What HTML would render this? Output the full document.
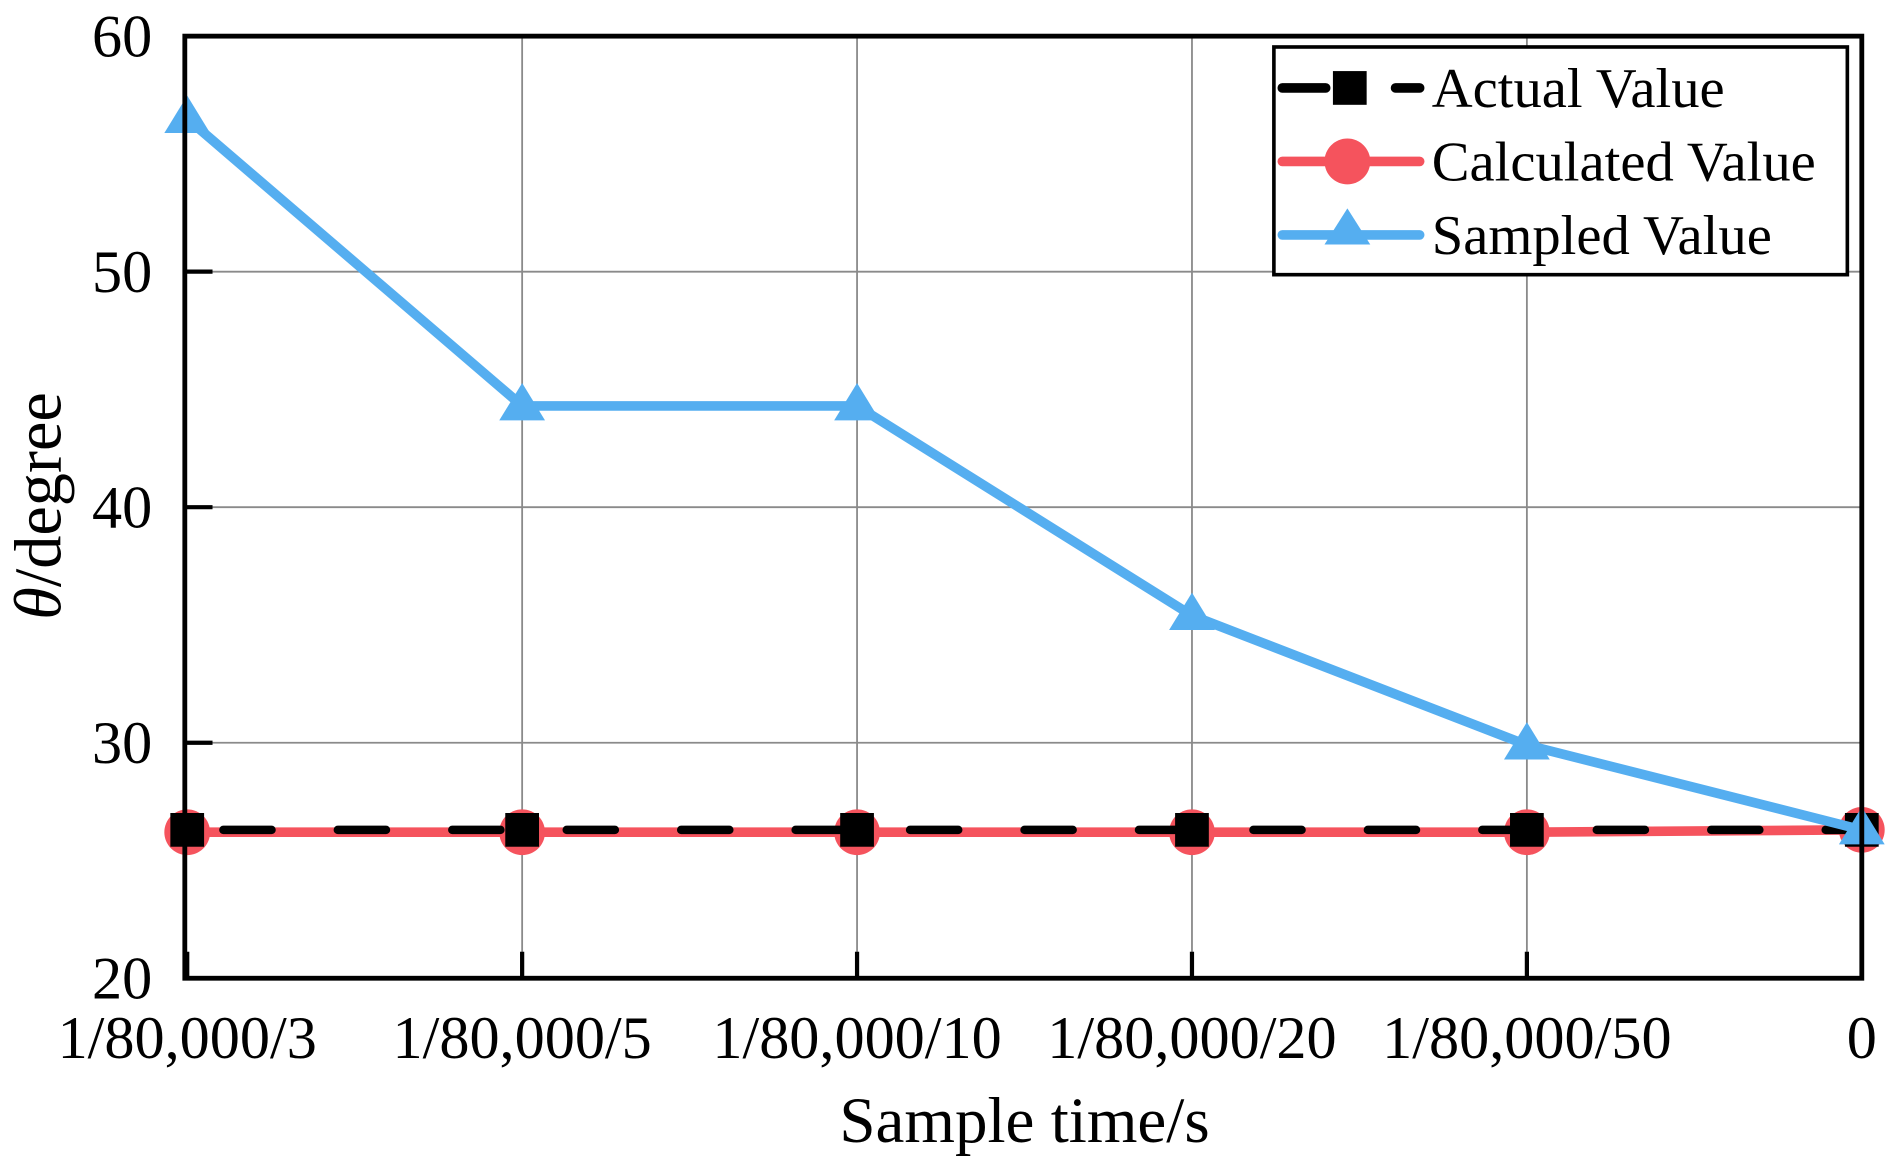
<!DOCTYPE html>
<html><head><meta charset="utf-8"><style>
html,body{margin:0;padding:0;background:#fff;}
svg{display:block;}
text{font-family:"Liberation Serif",serif;fill:#000;}
</style></head><body>
<svg id="chart" width="1890" height="1171" viewBox="0 0 1568 972" xmlns="http://www.w3.org/2000/svg">
<g id="grid"></g>
<g id="series"></g>
<g id="axes"></g>
<text x="850" y="948" font-size="54" text-anchor="middle">Sample time/s</text>
<text transform="translate(50,420) rotate(-90)" font-size="55" text-anchor="middle"><tspan font-style="italic">θ</tspan>/degree</text>
<g>
<rect x="1057" y="39" width="476" height="189" fill="#fff" stroke="#000" stroke-width="3"/>
<g>
<line x1="1064" y1="73" x2="1100" y2="73" stroke="#000" stroke-width="8" stroke-linecap="round"/>
<line x1="1158" y1="73" x2="1178" y2="73" stroke="#000" stroke-width="8" stroke-linecap="round"/>
<rect x="1106" y="59" width="28" height="28" fill="#000"/>
<text x="1188" y="89" font-size="47">Actual Value</text></g>
<g>
<line x1="1064" y1="134" x2="1178" y2="134" stroke="#f5535d" stroke-width="8" stroke-linecap="round"/>
<circle cx="1118" cy="134" r="19" fill="#f5535d"/>
<text x="1188" y="150" font-size="47">Calculated Value</text></g>
<g>
<line x1="1064" y1="195" x2="1178" y2="195" stroke="#55aef0" stroke-width="8" stroke-linecap="round"/>
<polygon points="1118,173 1137,203 1099,203" fill="#55aef0"/>
<text x="1188" y="211" font-size="47">Sampled Value</text></g>
</g>
</svg>
<script>
const categories = ["1/80,000/3","1/80,000/5","1/80,000/10","1/80,000/20","1/80,000/50","0"];
const actualValues = [26.3,26.3,26.3,26.3,26.3,26.3];
const calculatedValues = [26.2,26.2,26.2,26.2,26.2,26.3];
const sampledValues = [56.5,44.3,44.3,35.4,29.9,26.3];
const yTicks = [20,30,40,50,60];

const NS="http://www.w3.org/2000/svg";
const L=155,R=1545,T=30,B=812,yMin=20,yMax=60;
const xs=i=>L+i*(R-L)/(categories.length-1);
const ys=v=>B-(v-yMin)/(yMax-yMin)*(B-T);
function mk(tag,attrs,parent){const e=document.createElementNS(NS,tag);for(const k in attrs)e.setAttribute(k,attrs[k]);parent.appendChild(e);return e;}
const grid=document.getElementById('grid'),axes=document.getElementById('axes'),series=document.getElementById('series');
yTicks.forEach(v=>{
  if(v>yMin&&v<yMax){const g=mk('line',{x1:L,x2:R,y1:ys(v),y2:ys(v),stroke:'#8a8a8a','stroke-width':1.5},grid);
  
  }
  const t=mk('line',{x1:153,x2:176,y1:ys(v),y2:ys(v),stroke:'#000','stroke-width':3.5},axes);
  
  
  const tx=mk('text',{x:126,y:ys(v)+17,'font-size':50,'text-anchor':'end'},axes);
  tx.textContent=v;
  
  
});
categories.forEach((c,i)=>{
  if(i>0&&i<categories.length-1){const g=mk('line',{x1:xs(i),x2:xs(i),y1:T,y2:B,stroke:'#8a8a8a','stroke-width':1.5},grid);
  
  }
  const t=mk('line',{x1:xs(i),x2:xs(i),y1:B,y2:B-22,stroke:'#000','stroke-width':3.5},axes);
  
  
  const tx=mk('text',{x:i===categories.length-1?1545:xs(i),y:878,'font-size':50,'text-anchor':'middle'},axes);
  tx.textContent=c;
  
  
});
const frame=mk('rect',{x:153,y:T,width:R-153,height:B-T,fill:'none',stroke:'#000','stroke-width':4},axes);


function pts(vals){return vals.map((v,i)=>xs(i)+','+ys(v)).join(' ');}
const cl=mk('polyline',{points:pts(calculatedValues),fill:'none',stroke:'#f5535d','stroke-width':8},series);


calculatedValues.forEach((v,i)=>{const c=mk('circle',{cx:xs(i),cy:ys(v),r:19,fill:'#f5535d'},series);

});
const al=mk('polyline',{points:pts(actualValues),fill:'none',stroke:'#000','stroke-width':7,'stroke-dasharray':'40 55','stroke-linecap':'round','stroke-dashoffset':-30},series);


actualValues.forEach((v,i)=>{const s=mk('rect',{x:xs(i)-14,y:ys(v)-14,width:28,height:28,fill:'#000'},series);

});
const sl=mk('polyline',{points:pts(sampledValues),fill:'none',stroke:'#55aef0','stroke-width':8,'stroke-linejoin':'round'},series);


sampledValues.forEach((v,i)=>{const x=xs(i),y=ys(v);const p=mk('polygon',{points:`${x},${y-19} ${x+19},${y+12} ${x-19},${y+12}`,fill:'#55aef0'},series);

});
</script>
</body></html>
